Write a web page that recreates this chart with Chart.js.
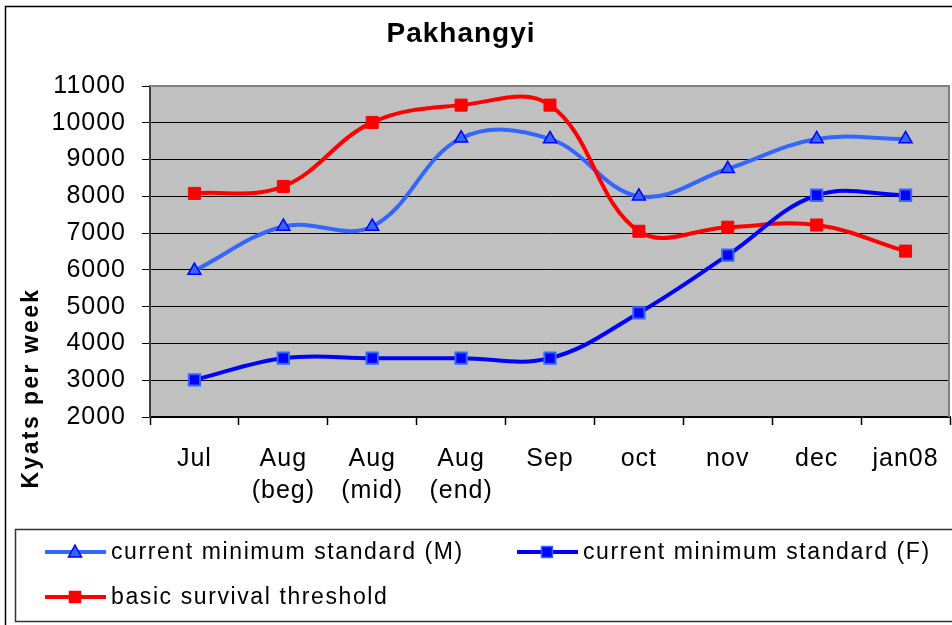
<!DOCTYPE html>
<html>
<head>
<meta charset="utf-8">
<script src="https://cdn.jsdelivr.net/npm/chart.js@4.4.1/dist/chart.umd.min.js"></script>
<style>
  html, body { margin: 0; padding: 0; background: #fff; }
  #wrap { width: 952px; height: 625px; position: relative; }
</style>
</head>
<body>
<div id="wrap"><canvas id="c" width="952" height="625"></canvas></div>
<script>
// ---- data ----
const categories = [['Jul'], ['Aug', '(beg)'], ['Aug', '(mid)'], ['Aug', '(end)'], ['Sep'], ['oct'], ['nov'], ['dec'], ['jan08']];
const minStandardM = [5980, 7180, 7180, 9580, 9560, 8000, 8750, 9560, 9560];
const minStandardF = [3010, 3600, 3600, 3600, 3600, 4830, 6400, 8030, 8030];
const survivalThreshold = [8080, 8270, 10010, 10480, 10480, 7050, 7160, 7220, 6510];
const seriesLabels = ['current minimum standard (M)', 'current minimum standard (F)', 'basic survival threshold'];
const chartTitle = 'Pakhangyi';
const yAxisTitle = 'Kyats per week';
const yMin = 2000, yMax = 11000, yStep = 1000;

const FONT = '"Liberation Sans", Arial, Helvetica, sans-serif';

const decorPlugin = {
  id: 'decor',
  beforeLayout(chart) { chart.ctx.letterSpacing = '1px'; },
  beforeDraw(chart) {
    const ctx = chart.ctx;
    ctx.letterSpacing = '1px';
    const a = chart.chartArea;
    ctx.save();
    ctx.fillStyle = '#fff';
    ctx.fillRect(0, 0, chart.width, chart.height);
    ctx.fillStyle = '#C0C0C0';
    ctx.fillRect(a.left, a.top, a.right - a.left, a.bottom - a.top);
    ctx.restore();
  },
  beforeDatasetsDraw(chart) {
    const ctx = chart.ctx;
    const a = chart.chartArea;
    ctx.save();
    ctx.strokeStyle = '#808080';
    ctx.lineWidth = 2;
    ctx.beginPath();
    ctx.moveTo(a.left, a.top);
    ctx.lineTo(a.right - 1, a.top);
    ctx.lineTo(a.right - 1, a.bottom);
    ctx.stroke();
    ctx.restore();
  },
  afterDraw(chart) {
    const ctx = chart.ctx;
    ctx.save();
    // outer border
    ctx.strokeStyle = '#000';
    ctx.lineWidth = 1.5;
    ctx.strokeRect(5.5, 6.5, 1000, 1000);
    // title
    ctx.fillStyle = '#000';
    ctx.font = 'bold 28px ' + FONT;
    ctx.letterSpacing = '1px';
    ctx.textAlign = 'center';
    ctx.textBaseline = 'alphabetic';
    ctx.fillText(chartTitle, 461, 42);
    // y axis title
    ctx.save();
    ctx.translate(38, 388);
    ctx.rotate(-Math.PI / 2);
    ctx.font = 'bold 23px ' + FONT;
    ctx.letterSpacing = '2.4px';
    ctx.textAlign = 'center';
    ctx.fillText(yAxisTitle, 0, 0);
    ctx.restore();
    // legend box
    ctx.strokeStyle = '#333';
    ctx.lineWidth = 1.5;
    ctx.strokeRect(15.5, 529.5, 1000, 92);
    const items = [
      { ds: 0, x: 45, y: 552 },
      { ds: 1, x: 517, y: 552 },
      { ds: 2, x: 45, y: 597 }
    ];
    items.forEach(it => {
      const d = chart.data.datasets[it.ds];
      ctx.strokeStyle = d.borderColor;
      ctx.lineWidth = 4;
      ctx.beginPath();
      ctx.moveTo(it.x, it.y);
      ctx.lineTo(it.x + 61, it.y);
      ctx.stroke();
      const cx = it.x + 30, cy = it.y;
      ctx.fillStyle = d.pointBackgroundColor;
      ctx.strokeStyle = d.pointBorderColor;
      ctx.lineWidth = 1.5;
      ctx.beginPath();
      if (d.pointStyle === 'triangle') {
        ctx.moveTo(cx, cy - 7);
        ctx.lineTo(cx + 6.5, cy + 5);
        ctx.lineTo(cx - 6.5, cy + 5);
        ctx.closePath();
      } else {
        ctx.rect(cx - 5.5, cy - 5.5, 11, 11);
      }
      ctx.fill();
      ctx.stroke();
      ctx.fillStyle = '#000';
      ctx.font = '23px ' + FONT;
      ctx.letterSpacing = '1.6px';
      ctx.textAlign = 'left';
      ctx.textBaseline = 'middle';
      ctx.fillText(d.label, it.x + 66, it.y + 1);
    });
    ctx.restore();
  }
};

new Chart(document.getElementById('c'), {
  type: 'line',
  data: {
    labels: categories,
    datasets: [
      {
        label: seriesLabels[0], data: minStandardM, order: 2,
        borderColor: '#3366FF', borderWidth: 4, tension: 0.38,
        pointStyle: 'triangle', pointRadius: 7.5, pointBorderWidth: 1.5,
        pointBackgroundColor: '#3366FF', pointBorderColor: '#0000FF'
      },
      {
        label: seriesLabels[1], data: minStandardF, order: 0,
        borderColor: '#0000FF', borderWidth: 4, tension: 0.38,
        pointStyle: 'rect', pointRadius: 8, pointBorderWidth: 2,
        pointBackgroundColor: '#0000FF', pointBorderColor: '#3366FF'
      },
      {
        label: seriesLabels[2], data: survivalThreshold, order: 1,
        borderColor: '#FF0000', borderWidth: 4, tension: 0.38,
        pointStyle: 'rect', pointRadius: 8.5, pointBorderWidth: 1,
        pointBackgroundColor: '#FF0000', pointBorderColor: '#FF0000'
      }
    ]
  },
  options: {
    responsive: false,
    animation: false,
    devicePixelRatio: 1,
    layout: { autoPadding: false, padding: { left: 0, top: 86, right: 2, bottom: 0 } },
    plugins: { legend: { display: false }, title: { display: false }, tooltip: { enabled: false } },
    scales: {
      x: {
        offset: true,
        afterFit(s) { s.height = 208; s.paddingLeft = 0; s.paddingRight = 0; },
        grid: { offset: true, drawOnChartArea: false, drawTicks: true, tickLength: 8, tickColor: '#000', tickWidth: 1.5 },
        border: { display: true, color: '#000', width: 2 },
        ticks: { color: '#000', padding: 18, maxRotation: 0, autoSkip: false, font: { family: FONT, size: 25, lineHeight: 1.28 } }
      },
      y: {
        min: yMin, max: yMax,
        afterFit(s) { s.width = 150; s.paddingTop = 0; s.paddingBottom = 0; },
        grid: {
          color: c => (c.tick && c.tick.value === yMax) ? 'rgba(0,0,0,0)' : '#000',
          lineWidth: 1, drawTicks: true, tickLength: 8, tickColor: '#000'
        },
        border: { display: true, color: '#404040', width: 2 },
        ticks: { stepSize: yStep, color: '#000', padding: 16, font: { family: FONT, size: 25 }, callback: v => String(v) }
      }
    }
  },
  plugins: [decorPlugin]
});
</script>
</body>
</html>
